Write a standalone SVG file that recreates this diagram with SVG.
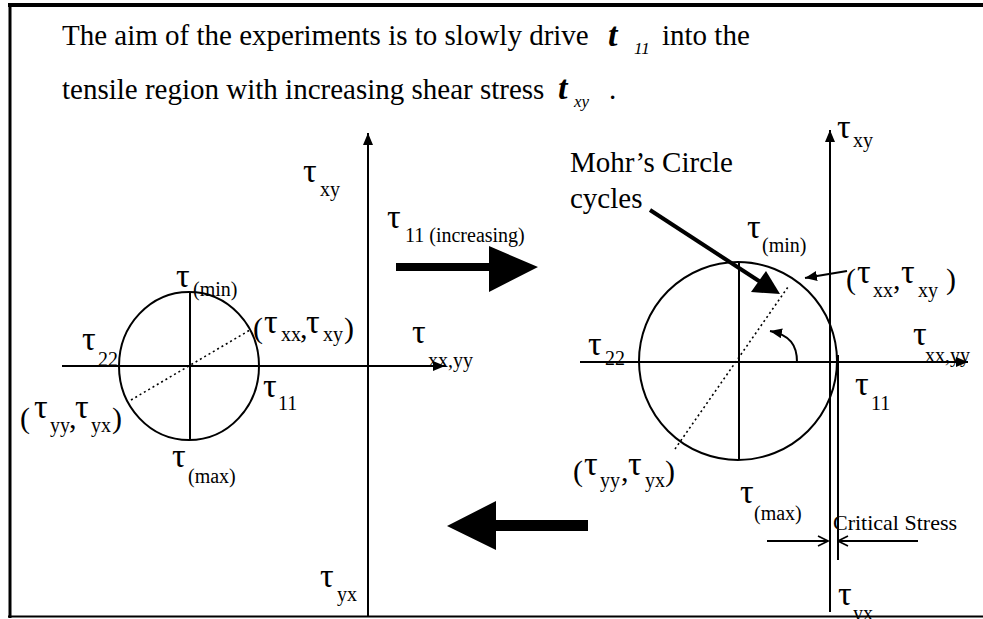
<svg xmlns="http://www.w3.org/2000/svg" width="983" height="619" viewBox="0 0 983 619">
<style>
.t{font-family:'Liberation Serif','Times New Roman',serif;fill:#000}
.title{font-size:29px}
.tau{font-size:34px}
.sub{font-size:20px}
.par{font-size:30px}
.bt{font-size:34px;font-weight:bold;font-style:italic}
.it{font-size:17px;font-style:italic}
.ax{stroke:#000;stroke-width:2;fill:none}
.dot{stroke:#000;stroke-width:1.6;stroke-dasharray:2 3;fill:none}
.blk{fill:#000;stroke:none}
</style>
<defs>
<marker id="ah" viewBox="0 0 12 10" refX="12" refY="5" markerWidth="12" markerHeight="10" markerUnits="userSpaceOnUse" orient="auto"><path d="M0,0 L12,5 L0,10 z" fill="#000"/></marker>
<marker id="chev" viewBox="0 0 12 12" refX="11" refY="6" markerWidth="12" markerHeight="12" markerUnits="userSpaceOnUse" orient="auto"><path d="M1,1 L11,6 L1,11" fill="none" stroke="#000" stroke-width="1.6"/></marker>
</defs>
<rect width="983" height="619" fill="#fff"/>
<g id="frame">
<line x1="8" y1="5" x2="983" y2="5" stroke="#000" stroke-width="4"/>
<line x1="10" y1="3" x2="10" y2="618" stroke="#000" stroke-width="3"/>
<line x1="8" y1="616.5" x2="983" y2="616.5" stroke="#000" stroke-width="2"/>
</g>
<g id="title">
<text class="t title" x="62" y="45">The aim of the experiments is to slowly drive</text>
<text class="t"><tspan class="bt" x="608" y="46">t</tspan><tspan class="it" x="634" y="54">11</tspan></text>
<text class="t title" x="662" y="45">into the</text>
<text class="t title" x="62" y="99">tensile region with increasing shear stress</text>
<text class="t"><tspan class="bt" x="558" y="99">t</tspan><tspan class="it" x="574" y="107">xy</tspan></text>
<text class="t title" x="609" y="99">.</text>
</g>
<g id="left-diagram">
<line class="ax" x1="368" y1="617" x2="368" y2="133" marker-end="url(#ah)"/>
<line class="ax" x1="62" y1="366" x2="445" y2="366" marker-end="url(#ah)"/>
<ellipse class="ax" cx="189" cy="366" rx="70" ry="74"/>
<line class="ax" x1="190" y1="292" x2="190" y2="440"/>
<line class="dot" x1="131" y1="400" x2="250" y2="330"/>
<text class="t"><tspan class="tau" x="303" y="182">τ</tspan><tspan class="sub" x="320" y="196">xy</tspan></text>
<text class="t"><tspan class="tau" x="176" y="287">τ</tspan><tspan class="sub" x="193" y="296">(min)</tspan></text>
<text class="t"><tspan class="tau" x="82" y="350">τ</tspan><tspan class="sub" x="98" y="366">22</tspan></text>
<text class="t"><tspan class="par" x="253" y="338">(</tspan><tspan class="tau" x="264" y="333">τ</tspan><tspan class="sub" x="281" y="341">xx</tspan><tspan class="par" x="300" y="338">,</tspan><tspan class="tau" x="306" y="333">τ</tspan><tspan class="sub" x="323" y="341">xy</tspan><tspan class="par" x="344" y="338">)</tspan></text>
<text class="t"><tspan class="tau" x="412" y="343">τ</tspan><tspan class="sub" x="428" y="367">xx,yy</tspan></text>
<text class="t"><tspan class="tau" x="263" y="397">τ</tspan><tspan class="sub" x="278" y="410">11</tspan></text>
<text class="t"><tspan class="par" x="20" y="428">(</tspan><tspan class="tau" x="34" y="418">τ</tspan><tspan class="sub" x="50" y="432">yy</tspan><tspan class="par" x="69" y="428">,</tspan><tspan class="tau" x="75" y="418">τ</tspan><tspan class="sub" x="91" y="432">yx</tspan><tspan class="par" x="112" y="428">)</tspan></text>
<text class="t"><tspan class="tau" x="172" y="467">τ</tspan><tspan class="sub" x="188" y="483">(max)</tspan></text>
<text class="t"><tspan class="tau" x="320" y="587">τ</tspan><tspan class="sub" x="337" y="601">yx</tspan></text>
</g>
<g id="right-diagram">
<line class="ax" x1="830" y1="612" x2="830" y2="130" marker-end="url(#ah)"/>
<line class="ax" x1="580" y1="362" x2="968" y2="362" marker-end="url(#ah)"/>
<circle class="ax" cx="738" cy="361" r="99"/>
<line class="ax" x1="739" y1="262" x2="739" y2="460"/>
<line class="ax" x1="838" y1="355" x2="838" y2="560"/>
<line class="dot" x1="675" y1="449" x2="788" y2="287"/>
<text class="t"><tspan class="tau" x="837" y="138">τ</tspan><tspan class="sub" x="853" y="147">xy</tspan></text>
<text class="t title" x="570" y="172">Mohr’s Circle</text>
<text class="t title" x="570" y="208">cycles</text>
<text class="t"><tspan class="tau" x="747" y="238">τ</tspan><tspan class="sub" x="762" y="252">(min)</tspan></text>
<text class="t"><tspan class="tau" x="588" y="355">τ</tspan><tspan class="sub" x="605" y="365">22</tspan></text>
<text class="t"><tspan class="par" x="846" y="289">(</tspan><tspan class="tau" x="857" y="283">τ</tspan><tspan class="sub" x="873" y="297">xx</tspan><tspan class="par" x="893" y="289">,</tspan><tspan class="tau" x="901" y="283">τ</tspan><tspan class="sub" x="918" y="297">xy</tspan><tspan class="par" x="946" y="289">)</tspan></text>
<text class="t"><tspan class="tau" x="913" y="345">τ</tspan><tspan class="sub" x="925" y="362">xx,yy</tspan></text>
<text class="t"><tspan class="tau" x="855" y="395">τ</tspan><tspan class="sub" x="871" y="410">11</tspan></text>
<text class="t"><tspan class="par" x="573" y="481">(</tspan><tspan class="tau" x="584" y="475">τ</tspan><tspan class="sub" x="600" y="487">yy</tspan><tspan class="par" x="621" y="481">,</tspan><tspan class="tau" x="628" y="475">τ</tspan><tspan class="sub" x="645" y="487">yx</tspan><tspan class="par" x="665" y="481">)</tspan></text>
<text class="t"><tspan class="tau" x="740" y="503">τ</tspan><tspan class="sub" x="754" y="520">(max)</tspan></text>
<text class="t" style="font-size:22px" x="833" y="530">Critical Stress</text>
<text class="t"><tspan class="tau" x="838" y="605">τ</tspan><tspan class="sub" x="853" y="620">yx</tspan></text>
</g>
<g id="connectors">
<text class="t"><tspan class="tau" x="387" y="228">τ</tspan><tspan class="sub" x="405" y="242">11 (increasing)</tspan></text>
<path class="blk" d="M396,263 L489,263 L489,246 L538,267 L489,292 L489,271 L396,271 z"/>
<path class="blk" d="M588,520 L496,520 L496,501 L447,526 L496,550 L496,531 L588,531 z"/>
<line x1="650" y1="210" x2="762" y2="283" stroke="#000" stroke-width="4"/>
<path class="blk" d="M780,294 L751,292 L766,271 z"/>
<line x1="847" y1="271" x2="805" y2="278" stroke="#000" stroke-width="2" marker-end="url(#ah)"/>
<path class="ax" d="M797,362 C797,345 790,335 770,331" marker-end="url(#ah)"/>
<line x1="767" y1="541" x2="828" y2="541" stroke="#000" stroke-width="2" marker-end="url(#chev)"/>
<line x1="918" y1="541" x2="838" y2="541" stroke="#000" stroke-width="2" marker-end="url(#chev)"/>
</g>
</svg>
